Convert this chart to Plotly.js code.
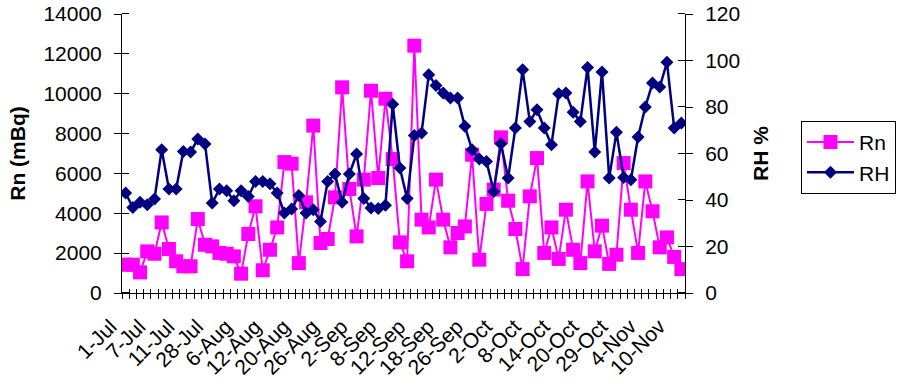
<!DOCTYPE html>
<html>
<head>
<meta charset="utf-8">
<script src="https://cdn.plot.ly/plotly-3.0.1.min.js"></script>
<style>html,body{margin:0;padding:0;background:#fff;}#chart{width:898px;height:384px;}</style>
</head>
<body>
<div id="chart"></div>
<script>
// Tick labels shown on the category axis (every 4th sample)
var tickLabels = ["1-Jul","7-Jul","11-Jul","28-Jul","6-Aug","12-Aug","20-Aug","26-Aug","2-Sep","8-Sep",
                  "12-Sep","18-Sep","26-Sep","2-Oct","8-Oct","14-Oct","20-Oct","29-Oct","4-Nov","10-Nov"];

// Rn (mBq), left axis
var rn = [1420,1420,1035,2090,1970,3540,2210,1590,1340,1340,
          3710,2420,2340,2010,1970,1840,970,2960,4350,1140,
          2170,3290,6570,6490,1500,4550,8400,2510,2710,4800,
          10320,5220,2840,5690,10150,5770,9750,6720,2540,1590,
          12410,3680,3290,5690,3680,2290,3010,3340,6940,1670,
          4470,5190,7810,4630,3210,1200,4850,6770,2010,3290,
          1710,4180,2170,1500,5600,2090,3380,1460,1920,6520,
          4180,2010,5600,4100,2290,2790,1810,1200];

// RH %, right axis
var rh = [43.0,36.8,39.0,38.0,40.4,61.6,44.7,44.7,60.9,60.6,
          66.2,64.1,38.7,44.7,44.0,39.7,44.0,41.5,48.0,48.0,
          47.0,43.0,34.4,36.1,41.9,34.4,35.8,30.8,48.0,51.2,
          39.0,51.2,59.8,40.6,36.6,36.3,37.7,81.2,53.8,40.6,
          67.7,68.8,93.9,89.2,86.0,83.9,83.9,71.7,61.6,57.6,
          56.6,43.7,64.2,49.5,71.0,96.0,73.8,78.8,71.0,63.8,
          85.7,86.0,77.7,73.8,97.0,60.6,95.1,49.5,69.1,49.7,
          48.7,67.1,80.0,90.3,88.6,99.2,71.0,73.1];

var idx = rn.map(function(_, i){ return i; });
var n = rn.length;
var labelPos = tickLabels.map(function(_, i){ return i * 4; });

var FONT = "Liberation Sans, Arial, sans-serif";

var traces = [
  {x: idx, y: rn, name: "Rn", type: "scatter", mode: "lines+markers",
   line: {color: "#FF00FF", width: 2},
   marker: {symbol: "square", size: 14, color: "#FF00FF"},
   xaxis: "x", yaxis: "y"},
  {x: idx, y: rh, name: "RH", type: "scatter", mode: "lines+markers",
   line: {color: "#000080", width: 2.5},
   marker: {symbol: "diamond", size: 10, color: "#000080"},
   xaxis: "x2", yaxis: "y2"}
];

var xr = [-0.5, n - 0.5];

var layout = {
  width: 898, height: 384,
  margin: {l: 122, r: 213, t: 14, b: 91, pad: 0, autoexpand: false},
  paper_bgcolor: "#fff", plot_bgcolor: "#fff",
  font: {family: FONT, size: 21, color: "#000"},
  showlegend: true,
  legend: {x: 1.206, y: 0.617, xanchor: "left", yanchor: "top",
           bordercolor: "#000", borderwidth: 1, bgcolor: "#fff",
           font: {family: FONT, size: 21, color: "#000"}, itemwidth: 47,
           tracegroupgap: 0},
  xaxis: {range: xr, showgrid: false, zeroline: false, showline: true, linecolor: "#000", linewidth: 1,
          tickmode: "array", tickvals: labelPos, ticktext: tickLabels, ticks: "",
          ticklabelstandoff: 12, ticklabelshift: -15,
          tickangle: -45, tickfont: {family: FONT, size: 21, color: "#000"},
          minor: {tickmode: "linear", tick0: -0.5, dtick: 1, ticks: "outside", ticklen: 5,
                  tickcolor: "#000", tickwidth: 1, showgrid: false}},
  xaxis2: {range: xr, overlaying: "x", anchor: "y2", side: "bottom", showgrid: false, zeroline: false, showline: false,
           tickmode: "linear", tick0: -0.5, dtick: 1, ticks: "inside", ticklen: 4, tickcolor: "#000", tickwidth: 1,
           showticklabels: false},
  yaxis: {range: [0, 14000], dtick: 2000, tick0: 0, tickformat: "d", showgrid: false, zeroline: false,
          showline: true, linecolor: "#000", linewidth: 1,
          ticks: "outside", ticklen: 7, tickcolor: "#000", tickwidth: 1, ticklabelstandoff: 8,
          tickfont: {family: FONT, size: 21, color: "#000"},
          minor: {tickmode: "linear", tick0: 1, dtick: 2000, ticks: "inside", ticklen: 7,
                  tickcolor: "#000", tickwidth: 1, showgrid: false},
          title: {text: "Rn (mBq)", standoff: 12, font: {family: FONT, size: 21, color: "#000", weight: "bold"}}},
  yaxis2: {range: [0, 120], dtick: 20, tick0: 0, overlaying: "y", side: "right", anchor: "x2",
           showgrid: false, zeroline: false, showline: true, linecolor: "#000", linewidth: 1,
           ticks: "outside", ticklen: 7, tickcolor: "#000", tickwidth: 1, ticklabelstandoff: 8,
           tickfont: {family: FONT, size: 21, color: "#000"},
           minor: {tickmode: "linear", tick0: 0.01, dtick: 20, ticks: "inside", ticklen: 7,
                   tickcolor: "#000", tickwidth: 1, showgrid: false},
           title: {text: "RH %", standoff: 14, font: {family: FONT, size: 21, color: "#000", weight: "bold"}}}
};

Plotly.newPlot("chart", traces, layout, {displayModeBar: false, staticPlot: true});
</script>
</body>
</html>
